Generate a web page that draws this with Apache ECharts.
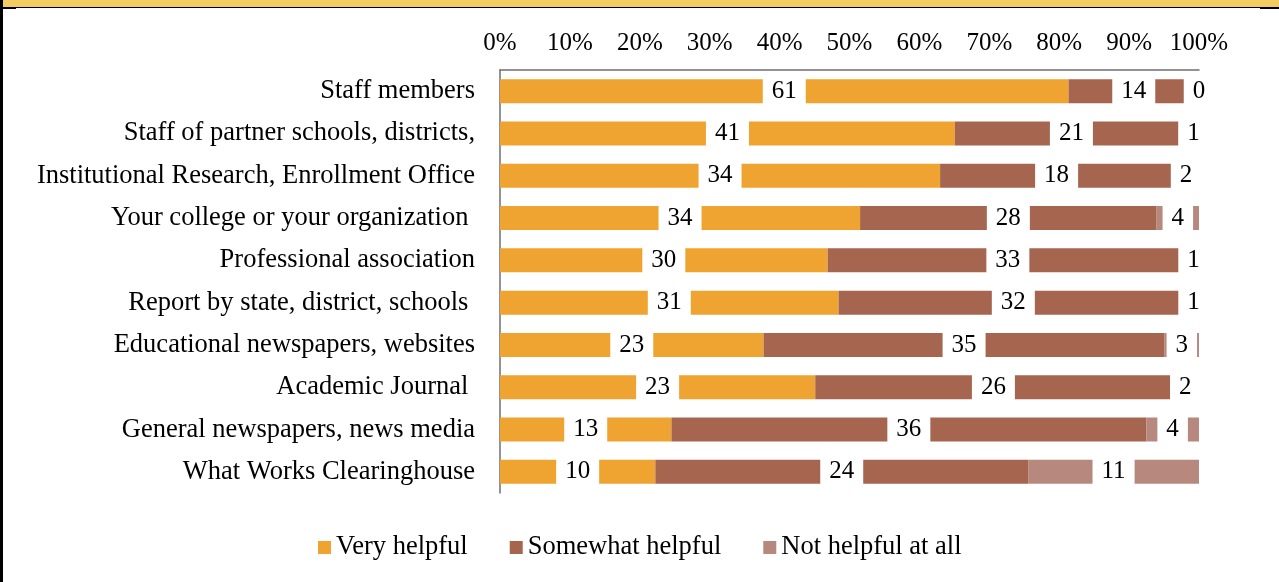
<!DOCTYPE html>
<html>
<head>
<meta charset="utf-8">
<script src="https://cdn.jsdelivr.net/npm/echarts@6/dist/echarts.min.js"></script>
<style>
  html, body { margin: 0; padding: 0; background: #fff; }
  #frame { position: relative; width: 1279px; height: 582px; overflow: hidden; }
  #band { position: absolute; left: 0; top: 0; width: 1279px; height: 7px; background: #F3CD63; border-bottom: 1px solid #000; }
  #leftEdge { position: absolute; left: 0; top: 0; width: 3px; height: 582px; background: #000; }
  #tickL { position: absolute; left: 3px; top: 7px; width: 13px; height: 2px; background: #000; }
  #tickR { position: absolute; left: 1260px; top: 7px; width: 19px; height: 2px; background: #000; }
  #chart { position: absolute; left: 0; top: 0; width: 1279px; height: 582px; }
</style>
</head>
<body>
<div id="frame">
  <div id="chart"></div>
  <div id="band"></div>
  <div id="leftEdge"></div>
  <div id="tickL"></div>
  <div id="tickR"></div>
</div>
<script>
// Information sources and how many respondents rated each one
const categories = [
  'Staff members',
  'Staff of partner schools, districts,',
  'Institutional Research, Enrollment Office',
  'Your college or your organization ',
  'Professional association',
  'Report by state, district, schools ',
  'Educational newspapers, websites',
  'Academic Journal ',
  'General newspapers, news media',
  'What Works Clearinghouse'
];
const veryHelpful     = [61, 41, 34, 34, 30, 31, 23, 23, 13, 10];
const somewhatHelpful = [14, 21, 18, 28, 33, 32, 35, 26, 36, 24];
const notHelpful      = [0, 1, 2, 4, 1, 1, 3, 2, 4, 11];
const seriesNames = ['Very helpful', 'Somewhat helpful', 'Not helpful at all'];
const seriesColors = ['#EFA330', '#A6654F', '#B7897E'];

const FONT = '"Liberation Serif", "Times New Roman", serif';

// Each bar is a 100% stack: counts are turned into shares of the row total
const totals = categories.map((_, i) => veryHelpful[i] + somewhatHelpful[i] + notHelpful[i]);
function shares(counts) {
  return counts.map((c, i) => ({ value: c / totals[i] * 100, count: c }));
}

const chart = echarts.init(document.getElementById('chart'), null, { renderer: 'canvas' });

const series = [veryHelpful, somewhatHelpful, notHelpful].map((counts, k) => ({
  name: seriesNames[k],
  type: 'bar',
  stack: 'total',
  barWidth: 24,
  data: shares(counts),
  itemStyle: { color: seriesColors[k] },
  label: {
    show: true,
    position: 'inside',
    formatter: p => String(p.data.count),
    color: '#000',
    fontFamily: FONT,
    fontSize: 25,
    backgroundColor: '#fff',
    padding: [4, 9, 0, 9]
  },
  emphasis: { disabled: true }
}));

chart.setOption({
  animation: false,
  backgroundColor: '#fff',
  textStyle: { fontFamily: FONT },
  grid: { left: 500, right: 80, top: 70, bottom: 89, containLabel: false },
  xAxis: {
    type: 'value',
    position: 'top',
    min: 0,
    max: 100,
    interval: 10,
    axisLine: { show: true, lineStyle: { color: '#6f6f6f', width: 1.5 } },
    axisTick: { show: false },
    splitLine: { show: false },
    axisLabel: {
      formatter: '{value}%',
      color: '#000',
      fontFamily: FONT,
      fontSize: 25,
      margin: 14
    }
  },
  yAxis: {
    type: 'category',
    inverse: true,
    data: categories,
    axisLine: { show: true, lineStyle: { color: '#6f6f6f', width: 1.5 } },
    axisTick: { show: false },
    axisLabel: {
      color: '#000',
      fontFamily: FONT,
      fontSize: 26.5,
      margin: 25,
      padding: [7, 0, 0, 0]
    }
  },
  legend: {
    left: 318,
    top: 534,
    padding: 0,
    icon: 'rect',
    itemWidth: 13,
    itemHeight: 13,
    itemGap: 42,
    textStyle: { color: '#000', fontFamily: FONT, fontSize: 26.5 },
    data: seriesNames
  },
  series: series
});
</script>
</body>
</html>
